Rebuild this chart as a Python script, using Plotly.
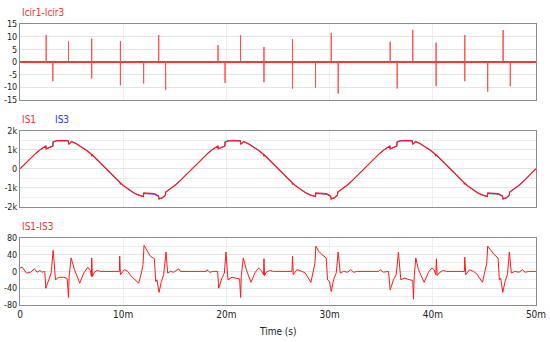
import plotly.graph_objects as go

# ---------------- data (time in ms) ----------------
# Panel 1: Icir1-Icir3 spikes (time, positive peak, negative peak)
spike_t = [2.54, 3.18, 4.70, 6.95, 9.73, 11.98, 13.44, 14.11,
           19.19, 19.87, 21.37, 23.64, 26.41, 28.64, 30.16, 30.83,
           35.87, 36.55, 38.06, 40.32, 43.10, 45.32, 46.81, 47.51]
spike_up = [10.7, 0, 8.3, 9.3, 8.3, 0, 10.7, 0,
            6.7, 0, 10.7, 6.0, 9.1, 0, 11.6, 0,
            8.1, 0, 12.8, 7.7, 10.7, 0, 12.7, 0]
spike_dn = [0, -7.6, 0, -6.5, -9.2, -8.5, 0, -11.1,
            0, -8.3, 0, -8.0, -10.5, -10.1, 0, -12.5,
            0, -10.5, 0, -9.6, -7.6, -11.7, 0, -9.6]

# Panel 2: IS1 and IS3
t_is = [0, 0.5, 1.0, 1.5, 2.0, 2.5, 2.54, 3.0, 3.18, 3.21, 3.5, 4.0, 4.5, 4.68, 4.72, 4.9, 5.0,
        5.5, 6.0, 6.5, 6.93, 6.95, 6.98, 7.5, 8.0, 8.5, 9.0, 9.5, 9.71, 9.73, 9.76, 10.0, 10.5,
        11.0, 11.5, 11.96, 11.99, 12.5, 13.0, 13.42, 13.47, 13.8, 14.09, 14.12, 14.5, 15.0, 15.5,
        16.0, 16.5,
        16.67, 17.17, 17.67, 18.17, 18.67, 19.17, 19.21, 19.67, 19.85, 19.88, 20.17, 20.67, 21.17,
        21.35, 21.39, 21.57, 21.67, 22.17, 22.67, 23.17, 23.60, 23.62, 23.65, 24.17, 24.67, 25.17,
        25.67, 26.17, 26.38, 26.40, 26.43, 26.67, 27.17, 27.67, 28.17, 28.63, 28.66, 29.17, 29.67,
        30.09, 30.14, 30.47, 30.76, 30.79, 31.17, 31.67, 32.17, 32.67, 33.17,
        33.33, 33.83, 34.33, 34.83, 35.33, 35.83, 35.87, 36.33, 36.51, 36.54, 36.83, 37.33, 37.83,
        38.01, 38.05, 38.23, 38.33, 38.83, 39.33, 39.83, 40.26, 40.28, 40.31, 40.83, 41.33, 41.83,
        42.33, 42.83, 43.04, 43.06, 43.09, 43.33, 43.83, 44.33, 44.83, 45.29, 45.32, 45.83, 46.33,
        46.75, 46.80, 47.13, 47.42, 47.45, 47.83, 48.33, 48.83, 49.33, 49.83, 50.0]
is1 = [0, 281, 552, 804, 1027, 1200, 1050, 1150, 1200, 1420, 1470, 1490, 1485, 1470, 1290, 1430, 1440,
       1314, 1156, 956, 760, 660, 740, 464, 188, -94, -373, -639, -740, -830, -760, -882, -1093,
       -1266, -1395, -1470, -1280, -1290, -1310, -1440, -1610, -1530, -1400, -1230, -1093, -882, -639,
       -373, -94,
       0, 281, 552, 804, 1027, 1200, 1050, 1150, 1200, 1420, 1470, 1490, 1485, 1470, 1290, 1430, 1440,
       1314, 1156, 956, 760, 660, 740, 464, 188, -94, -373, -639, -740, -830, -760, -882, -1093,
       -1266, -1395, -1470, -1280, -1290, -1310, -1440, -1610, -1530, -1400, -1230, -1093, -882, -639,
       -373, -94,
       0, 281, 552, 804, 1027, 1200, 1050, 1150, 1200, 1420, 1470, 1490, 1485, 1470, 1290, 1430, 1440,
       1314, 1156, 956, 760, 660, 740, 464, 188, -94, -373, -639, -740, -830, -760, -882, -1093,
       -1266, -1395, -1470, -1280, -1290, -1310, -1440, -1610, -1530, -1400, -1230, -1093, -882, -639,
       -373, -94, 0]
is3 = [0, 281, 552, 804, 1027, 1200, 1060, 1160, 1210, 1430, 1485, 1505, 1500, 1485, 1300, 1430, 1440,
       1314, 1156, 956, 760, 680, 740, 464, 188, -94, -373, -639, -740, -810, -760, -882, -1093,
       -1266, -1395, -1470, -1310, -1325, -1345, -1460, -1580, -1540, -1400, -1240, -1093, -882, -639,
       -373, -94,
       0, 281, 552, 804, 1027, 1200, 1060, 1160, 1210, 1430, 1485, 1505, 1500, 1485, 1300, 1430, 1440,
       1314, 1156, 956, 760, 680, 740, 464, 188, -94, -373, -639, -740, -810, -760, -882, -1093,
       -1266, -1395, -1470, -1310, -1325, -1345, -1460, -1580, -1540, -1400, -1240, -1093, -882, -639,
       -373, -94,
       0, 281, 552, 804, 1027, 1200, 1060, 1160, 1210, 1430, 1485, 1505, 1500, 1485, 1300, 1430, 1440,
       1314, 1156, 956, 760, 680, 740, 464, 188, -94, -373, -639, -740, -810, -760, -882, -1093,
       -1266, -1395, -1470, -1310, -1325, -1345, -1460, -1580, -1540, -1400, -1240, -1093, -882, -639,
       -373, -94, 0]

# Panel 3: IS1-IS3
t3 = [0, 0.21, 0.63, 1.02, 1.40, 1.66, 1.92, 2.15, 2.40, 2.50,
      2.79, 3.02, 3.21, 3.44, 3.76, 4.24, 4.57, 4.70, 4.76, 4.95,
      5.28, 5.79, 6.18, 6.57, 6.82, 6.92, 6.95, 7.02, 7.21, 7.47,
      7.79, 9.63, 9.66, 9.73, 10.12, 10.44, 10.79, 11.50, 11.76, 11.92,
      12.02, 12.31, 12.63, 13.02, 13.15, 13.28, 13.47, 13.70, 13.92, 14.15,
      14.31, 14.57, 14.89, 15.38, 15.54, 18.05, 18.12, 18.38, 18.76, 19.15,
      19.25, 19.57, 19.80, 19.96, 20.15, 20.54, 21.02, 21.28, 21.38, 21.44,
      21.64, 21.93, 22.38, 22.80, 23.12, 23.38, 23.60, 23.64, 23.70, 23.86,
      24.19, 24.57, 26.35, 26.41, 26.48, 26.83, 27.32, 27.64, 28.19, 28.45,
      28.58, 28.67, 28.93, 29.25, 29.67, 29.80, 29.99, 30.16, 30.38, 30.64,
      30.83, 31.03, 31.35, 31.74, 32.06, 32.32, 32.71, 34.74, 34.90, 35.22,
      35.71, 35.87, 36.19, 36.45, 36.67, 36.90, 37.22, 37.80, 38.06, 38.13,
      38.19, 38.35, 38.61, 39.16, 39.58, 39.90, 40.13, 40.29, 40.35, 40.42,
      40.61, 40.97, 41.35, 43.06, 43.10, 43.19, 43.55, 43.94, 44.26, 44.81,
      45.06, 45.23, 45.32, 45.55, 45.94, 46.32, 46.45, 46.58, 46.78, 47.00,
      47.23, 47.42, 47.61, 47.94, 48.36, 48.68, 48.94, 49.39, 50.0]
v3 = [8, 10, -4, -2, 6, -2, 2, -2, 0, -40,
      -20, -4, 50, -20, -14, -14, -17, -62, -12, 32,
      4, -28, -4, 10, 2, -12, 32, -12, -2, 2,
      0, 0, 36, -8, 4, 0, -12, -28, -4, 16,
      62, 48, 36, 30, -24, -20, -50, -24, -8, 46,
      -4, 0, -2, 6, 0, 0, 4, -2, 0, 0,
      -40, -16, -4, 46, -20, -14, -16, -18, -62, -12,
      32, 4, -26, -2, 8, 2, -8, 30, -10, -2,
      2, 0, 0, 36, -8, 4, 0, -4, -26, 4,
      20, 60, 48, 40, 32, -20, -24, -48, -20, -4,
      46, -4, 0, -2, 4, -2, 0, 0, 4, -2,
      0, -44, -20, -8, 46, -20, -16, -20, -22, -66,
      -16, 32, 4, -26, -2, 8, 4, -8, 30, -10,
      -4, 2, 0, 0, 34, -8, 4, 0, -6, -26,
      0, 20, 60, 52, 40, 32, -20, -16, -50, -24,
      -8, 46, -4, 0, -2, 4, -2, 0, 0]

x_ticks = [0, 10, 20, 30, 40, 50]
x_ticktext = ['0', '10m', '20m', '30m', '40m', '50m']
y1_ticks = [-15, -10, -5, 0, 5, 10, 15]
y2_ticks = [-2000, -1000, 0, 1000, 2000]
y2_ticktext = ['-2k', '-1k', '0', '1k', '2k']
y3_ticks = [-80, -40, 0, 40, 80]

# ---------------- build spike polyline ----------------
x1, y1 = [0], [0]
for t, u, d in zip(spike_t, spike_up, spike_dn):
    x1 += [t, t, t, t]
    y1 += [0, u, d, 0]
x1.append(50)
y1.append(0)

RED = '#ff1a1a'
BLUE = '#3030ff'
GRID = '#e4e4e4'
VGRID = '#eeeeee'
BORDER = '#8c8c8c'
FONT = 'Liberation Sans Narrow, DejaVu Sans Condensed, Liberation Sans, Arial'

fig = go.Figure()
fig.add_trace(go.Scatter(x=x1, y=y1, mode='lines', line=dict(color='#ff5050', width=1),
                         xaxis='x', yaxis='y', showlegend=False))
fig.add_trace(go.Scatter(x=t_is, y=is3, mode='lines', line=dict(color=BLUE, width=1),
                         xaxis='x2', yaxis='y2', showlegend=False))
fig.add_trace(go.Scatter(x=t_is, y=is1, mode='lines', line=dict(color=RED, width=1.2),
                         xaxis='x2', yaxis='y2', showlegend=False))
fig.add_trace(go.Scatter(x=t3, y=v3, mode='lines', line=dict(color=RED, width=1),
                         xaxis='x3', yaxis='y3', showlegend=False))

def xax(anchor, labels):
    return dict(domain=[0, 1], anchor=anchor, range=[0, 50], tickvals=x_ticks,
                ticktext=x_ticktext, showticklabels=labels, showgrid=True, gridcolor=VGRID,
                zeroline=False, showline=True, mirror=True, linecolor=BORDER, linewidth=1,
                ticks='', tickfont=dict(size=10, color='#222222', family=FONT))

def yax(anchor, dom, rng, tv, tt, minor=None, zl=False):
    d = dict(domain=dom, anchor=anchor, range=rng, tickvals=tv, ticktext=tt,
             showgrid=True, gridcolor=GRID, showline=True, mirror=True,
             linecolor=BORDER, linewidth=1, ticks='',
             tickfont=dict(size=9, color='#222222', family=FONT))
    if minor is not None:
        d['minor'] = dict(dtick=minor, showgrid=True, gridcolor='#eeeeee', ticks='')
    if zl:
        d['zeroline'] = True
        d['zerolinecolor'] = RED
        d['zerolinewidth'] = 2
    else:
        d['zeroline'] = False
    return d

fig.update_layout(
    width=550, height=342,
    margin=dict(l=20, r=14, t=0, b=0, autoexpand=False),
    paper_bgcolor='white', plot_bgcolor='white',
    font=dict(family=FONT, size=10, color='#222222'),
    xaxis=xax('y', False),
    xaxis2=xax('y2', False),
    xaxis3=xax('y3', True),
    yaxis=yax('x', [0.708, 0.929], [-15, 15], y1_ticks, [str(v) for v in y1_ticks], zl=True),
    yaxis2=yax('x2', [0.396, 0.617], [-2000, 2000], y2_ticks, y2_ticktext, minor=500),
    yaxis3=yax('x3', [0.108, 0.305], [-80, 80], y3_ticks, [str(v) for v in y3_ticks], minor=20),
    annotations=[
        dict(text='Icir1-Icir3', x=0, y=0.962, xref='paper', yref='paper', xanchor='left',
             yanchor='middle', showarrow=False, font=dict(size=10, color='#ff3030', family=FONT)),
        dict(text='IS1', x=0, y=0.651, xref='paper', yref='paper', xanchor='left',
             yanchor='middle', showarrow=False, font=dict(size=10, color='#ff3030', family=FONT)),
        dict(text='IS3', x=0.064, y=0.651, xref='paper', yref='paper', xanchor='left',
             yanchor='middle', showarrow=False, font=dict(size=10, color='#3030ff', family=FONT)),
        dict(text='IS1-IS3', x=0, y=0.339, xref='paper', yref='paper', xanchor='left',
             yanchor='middle', showarrow=False, font=dict(size=10, color='#ff3030', family=FONT)),
        dict(text='Time (s)', x=0.5, y=0.031, xref='paper', yref='paper', xanchor='center',
             yanchor='middle', showarrow=False, font=dict(size=10, color='#222222', family=FONT)),
    ],
)

fig.write_html('out.html', config={'displayModeBar': False},
               post_script="document.body.style.margin='0';document.body.style.overflow='hidden';")
